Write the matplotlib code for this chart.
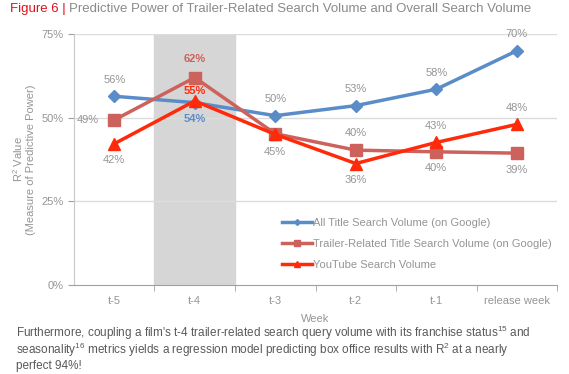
import matplotlib as mpl
mpl.use("Agg")
import matplotlib.pyplot as plt
import numpy as np

plt.rcParams['font.family'] = ['Liberation Sans', 'DejaVu Sans']
plt.rcParams['mathtext.default'] = 'regular'

weeks = ["t-5", "t-4", "t-3", "t-2", "t-1", "release week"]
all_title = [56.4, 54.5, 50.6, 53.6, 58.5, 70.0]
trailer = [49.3, 62.0, 45.2, 40.3, 39.8, 39.4]
youtube = [42.2, 55.0, 45.0, 36.3, 42.6, 48.0]

all_labels = ["56%", "54%", "50%", "53%", "58%", "70%"]
trailer_labels = ["49%", "62%", "45%", "40%", "40%", "39%"]
youtube_labels = ["42%", "55%", "", "36%", "43%", "48%"]

c_blue = "#5A8DC8"
c_trail = "#CD625C"
c_yt = "#FF2A0A"
c_grey = "#959595"

fig = plt.figure(figsize=(5.69, 3.74), dpi=100)
ax = fig.add_axes([0.130, 0.238, 0.849, 0.671])
x = np.arange(len(weeks))

ax.axvspan(0.5, 1.5, color="#D6D6D6", zorder=0)
for y in [25, 50, 75]:
    ax.axhline(y, color="#DCDCDC", lw=1, zorder=0.5)

ax.plot(x, all_title, color=c_blue, lw=2.5, marker="D", ms=6, zorder=3,
        label="All Title Search Volume (on Google)")
ax.plot(x, trailer, color=c_trail, lw=2.5, marker="s", ms=8, zorder=3,
        label="Trailer-Related Title Search Volume (on Google)")
ax.plot(x, youtube, color=c_yt, lw=2.5, marker="^", ms=9, zorder=4,
        label="YouTube Search Volume")

fs = 8
# all title labels
for i, (v, t) in enumerate(zip(all_title, all_labels)):
    if i == 1:
        ax.annotate(t, (i, v), xytext=(0, -12), textcoords="offset points",
                    ha="center", va="center", fontsize=fs, color=c_blue, weight="bold")
    else:
        ax.annotate(t, (i, v), xytext=(0, 12), textcoords="offset points",
                    ha="center", va="center", fontsize=fs, color=c_grey)
# trailer labels
offs_tr = [(-19, 0), (0, 13), (0, -13), (0, 12), (0, -12), (0, -12)]
for i, (v, t) in enumerate(zip(trailer, trailer_labels)):
    col = c_trail if i == 1 else c_grey
    wt = "bold" if i == 1 else "normal"
    ax.annotate(t, (i, v), xytext=offs_tr[i], textcoords="offset points",
                ha="center", va="center", fontsize=fs, color=col, weight=wt)
# youtube labels
offs_yt = [(0, -12), (0, 7), (0, 0), (0, -12), (0, 12), (0, 12)]
for i, (v, t) in enumerate(zip(youtube, youtube_labels)):
    if not t:
        continue
    col = c_yt if i == 1 else c_grey
    wt = "bold" if i == 1 else "normal"
    ax.annotate(t, (i, v), xytext=offs_yt[i], textcoords="offset points",
                ha="center", va="center", fontsize=fs, color=col, weight=wt, zorder=5)

ax.set_xlim(-0.5, 5.5)
ax.set_ylim(0, 75)
ax.set_yticks([0, 25, 50, 75])
ax.set_yticklabels(["0%", "25%", "50%", "75%"])
ax.set_xticks(x)
ax.set_xticklabels(weeks)
ax.set_xticks(np.arange(0.5, 5.6, 1), minor=True)
ax.tick_params(axis="x", which="major", length=0, pad=8, labelsize=fs, colors=c_grey)
ax.tick_params(axis="x", which="minor", length=4, color="#A0A0A0")
ax.tick_params(axis="y", length=4, labelsize=fs, colors=c_grey, color="#A0A0A0")
for s in ["top", "right"]:
    ax.spines[s].set_visible(False)
ax.spines["left"].set_color("#C8C8C8")
ax.spines["bottom"].set_color("#A0A0A0")

ax.set_xlabel("Week", fontsize=fs, color=c_grey, labelpad=6)
ax.set_ylabel("R$^2$ Value\n(Measure of Predictive Power)", fontsize=fs,
              color=c_grey, labelpad=4, linespacing=1.1)

leg = ax.legend(loc="lower left", bbox_to_anchor=(0.41, 0.02), frameon=False,
                fontsize=fs, labelcolor=c_grey, handlelength=2.7, markerscale=0.5,
                labelspacing=1.0, handletextpad=0.1)

fig.text(0.017, 0.975, "Figure 6 |", color="#E0101A", fontsize=9.5, va="center")
fig.text(0.122, 0.975, "Predictive Power of Trailer-Related Search Volume and Overall Search Volume",
         color="#8A8A8A", fontsize=9.5, va="center")

cap_lines = ["Furthermore, coupling a film's t-4 trailer-related search query volume with its franchise status$^{15}$ and",
             "seasonality$^{16}$ metrics yields a regression model predicting box office results with R$^2$ at a nearly",
             "perfect 94%!"]
for k, line in enumerate(cap_lines):
    fig.text(0.028, 1 - (333 + 16.5 * k) / 374, line, color="#595959",
             fontsize=8.5, va="center")

fig.savefig("out.png", dpi=100)
